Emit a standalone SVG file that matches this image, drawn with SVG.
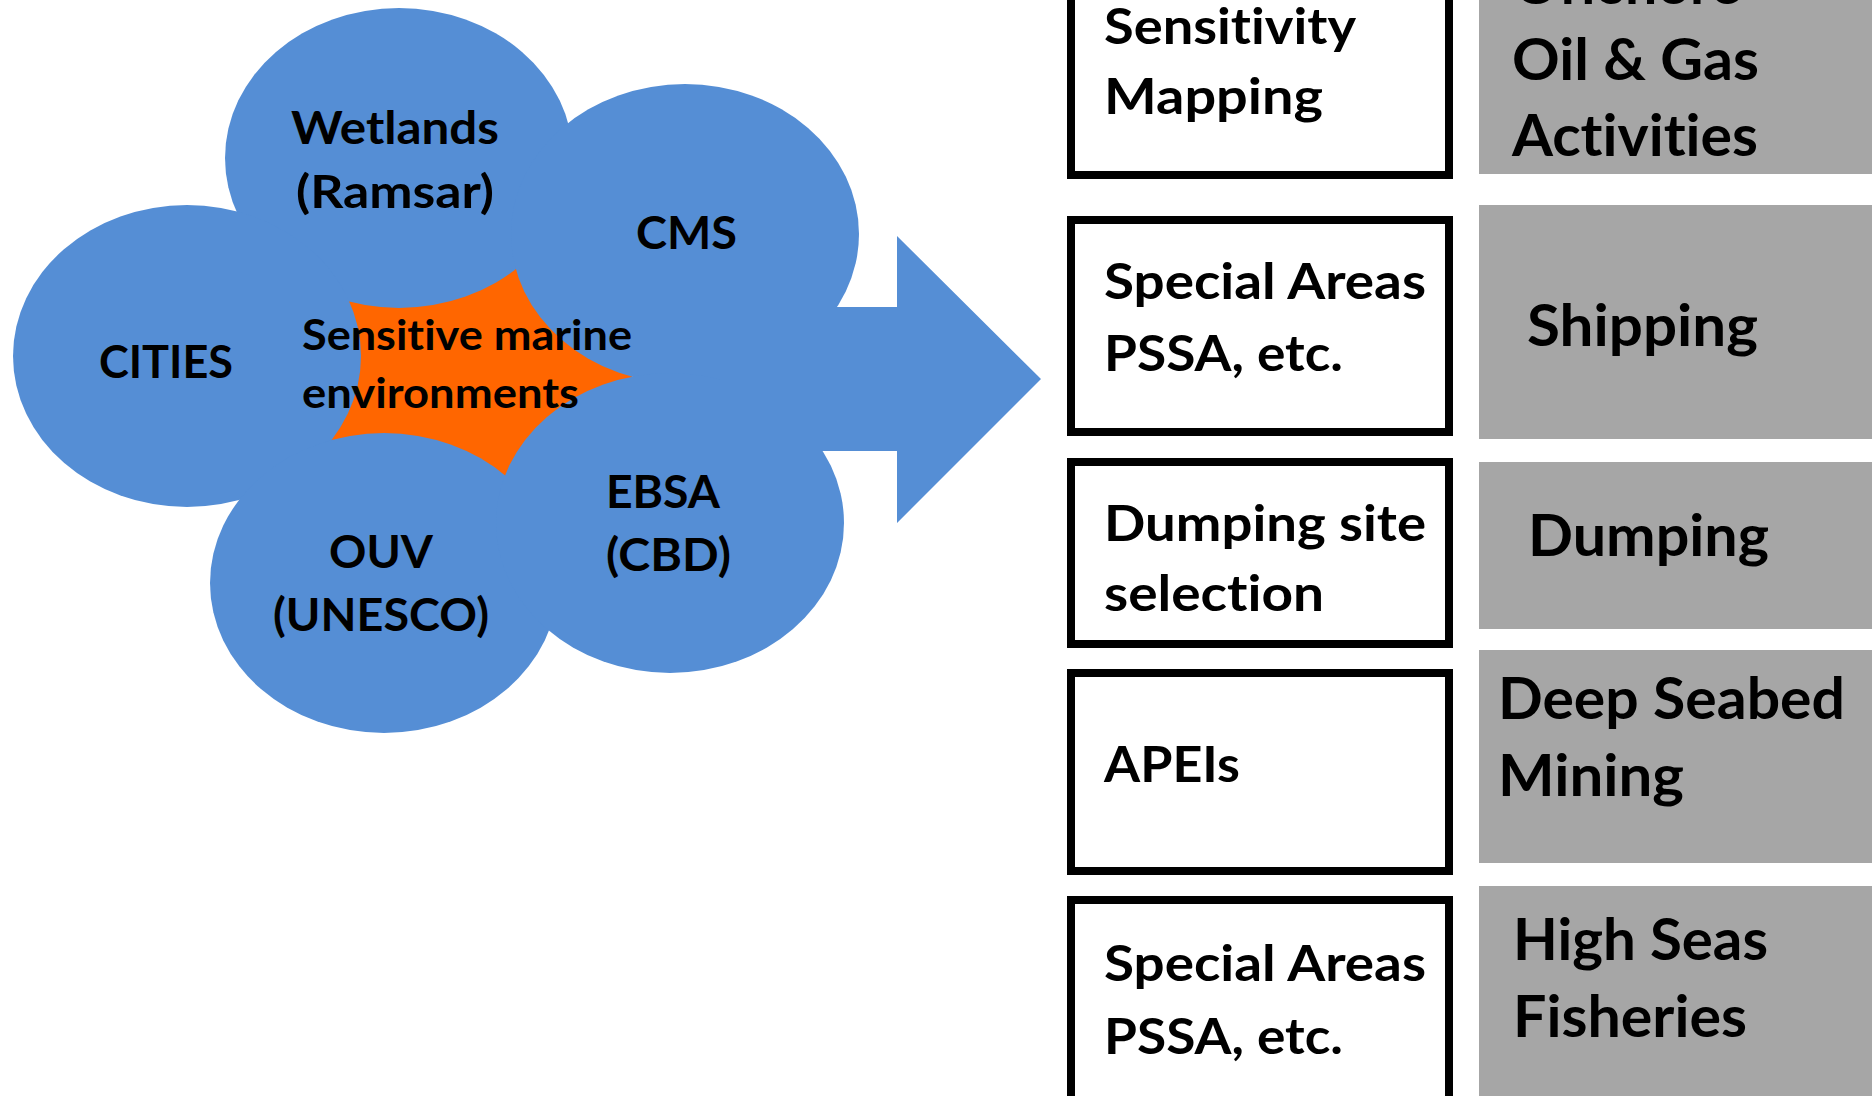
<svg xmlns="http://www.w3.org/2000/svg" width="1875" height="1096" viewBox="0 0 1875 1096">
<style>
  .cloud { fill: #558ED5; }
  .core { fill: #FF6600; }
  .t { font-family: Lato, "Liberation Sans", "DejaVu Sans", sans-serif; font-weight: bold; fill: #000000; font-variant-ligatures: none; font-feature-settings: "liga" 0, "clig" 0; }
  .lbl { font-size: 46px; }
  .core-t { font-size: 42px; }
  .box { fill: #FFFFFF; stroke: #000000; stroke-width: 8; }
  .box-t { font-size: 49px; }
  .act { fill: #A6A6A6; }
  .act-t { font-size: 57px; }
</style>
<rect x="0" y="0" width="1875" height="1096" fill="#FFFFFF"/>

<g id="core-shape">
  <polygon class="core" points="521,263 633,377 508,484 324,442 342,301"/>
</g>

<g id="cloud-wetlands">
  <ellipse class="cloud" cx="399" cy="158" rx="174" ry="150"/>
</g>
<g id="cloud-cms">
  <ellipse class="cloud" cx="685" cy="234" rx="174" ry="150"/>
</g>
<g id="cloud-cities">
  <ellipse class="cloud" cx="187" cy="356" rx="174" ry="151"/>
</g>
<g id="cloud-ouv">
  <ellipse class="cloud" cx="384" cy="583" rx="174" ry="150"/>
</g>
<g id="cloud-ebsa">
  <ellipse class="cloud" cx="670" cy="523" rx="174" ry="150"/>
</g>

<g id="connectors">
  <polygon class="cloud" points="720,307 897,307 897,236 1041,379 897,523 897,451 720,451"/>
</g>

<g id="labels-clouds">
  <text class="t lbl" x="291" y="144" textLength="208" lengthAdjust="spacingAndGlyphs">Wetlands</text>
  <text class="t lbl" x="296" y="208" textLength="198" lengthAdjust="spacingAndGlyphs">(Ramsar)</text>
  <text class="t lbl" x="636" y="249" textLength="101" lengthAdjust="spacingAndGlyphs">CMS</text>
  <text class="t lbl" x="99" y="378" textLength="134" lengthAdjust="spacingAndGlyphs">CITIES</text>
  <text class="t lbl" x="329" y="568" textLength="104" lengthAdjust="spacingAndGlyphs">OUV</text>
  <text class="t lbl" x="273" y="631" textLength="216" lengthAdjust="spacingAndGlyphs">(UNESCO)</text>
  <text class="t lbl" x="606" y="508" textLength="114" lengthAdjust="spacingAndGlyphs">EBSA</text>
  <text class="t lbl" x="606" y="571" textLength="125" lengthAdjust="spacingAndGlyphs">(CBD)</text>
</g>
<g id="core-label">
  <text class="t core-t" x="302" y="350" textLength="330" lengthAdjust="spacingAndGlyphs">Sensitive marine</text>
  <text class="t core-t" x="302" y="408" textLength="277" lengthAdjust="spacingAndGlyphs">environments</text>
</g>

<g id="tool-sensitivity-mapping">
  <rect class="box" x="1071" y="-20" width="378" height="195"/>
  <text class="t box-t" x="1104" y="44" textLength="252" lengthAdjust="spacingAndGlyphs">Sensitivity</text>
  <text class="t box-t" x="1104" y="114" textLength="219" lengthAdjust="spacingAndGlyphs">Mapping</text>
</g>
<g id="tool-special-areas-1">
  <rect class="box" x="1071" y="220" width="378" height="212"/>
  <text class="t box-t" x="1104" y="299" textLength="322" lengthAdjust="spacingAndGlyphs">Special Areas</text>
  <text class="t box-t" x="1104" y="371" textLength="239" lengthAdjust="spacingAndGlyphs">PSSA, etc.</text>
</g>
<g id="tool-dumping-site">
  <rect class="box" x="1071" y="462" width="378" height="182"/>
  <text class="t box-t" x="1104" y="541" textLength="322" lengthAdjust="spacingAndGlyphs">Dumping site</text>
  <text class="t box-t" x="1104" y="611" textLength="220" lengthAdjust="spacingAndGlyphs">selection</text>
</g>
<g id="tool-apeis">
  <rect class="box" x="1071" y="673" width="378" height="198"/>
  <text class="t box-t" x="1104" y="782" textLength="136" lengthAdjust="spacingAndGlyphs">APEIs</text>
</g>
<g id="tool-special-areas-2">
  <rect class="box" x="1071" y="900" width="378" height="220"/>
  <text class="t box-t" x="1104" y="981" textLength="322" lengthAdjust="spacingAndGlyphs">Special Areas</text>
  <text class="t box-t" x="1104" y="1054" textLength="239" lengthAdjust="spacingAndGlyphs">PSSA, etc.</text>
</g>

<g id="activity-oil-gas">
  <rect class="act" x="1479" y="-10" width="393" height="184"/>
  <text class="t act-t" x="1513" y="4" textLength="228" lengthAdjust="spacingAndGlyphs">Offshore</text>
  <text class="t act-t" x="1512" y="80" textLength="247" lengthAdjust="spacingAndGlyphs">Oil &amp; Gas</text>
  <text class="t act-t" x="1512" y="156" textLength="246" lengthAdjust="spacingAndGlyphs">Activities</text>
</g>
<g id="activity-shipping">
  <rect class="act" x="1479" y="205" width="393" height="234"/>
  <text class="t act-t" x="1527" y="346" textLength="231" lengthAdjust="spacingAndGlyphs">Shipping</text>
</g>
<g id="activity-dumping">
  <rect class="act" x="1479" y="462" width="393" height="167"/>
  <text class="t act-t" x="1528" y="556" textLength="241" lengthAdjust="spacingAndGlyphs">Dumping</text>
</g>
<g id="activity-mining">
  <rect class="act" x="1479" y="650" width="393" height="213"/>
  <text class="t act-t" x="1498" y="719" textLength="347" lengthAdjust="spacingAndGlyphs">Deep Seabed</text>
  <text class="t act-t" x="1498" y="796" textLength="186" lengthAdjust="spacingAndGlyphs">Mining</text>
</g>
<g id="activity-fisheries">
  <rect class="act" x="1479" y="886" width="393" height="220"/>
  <text class="t act-t" x="1513" y="960" textLength="255" lengthAdjust="spacingAndGlyphs">High Seas</text>
  <text class="t act-t" x="1513" y="1037" textLength="234" lengthAdjust="spacingAndGlyphs">Fisheries</text>
</g>
</svg>
